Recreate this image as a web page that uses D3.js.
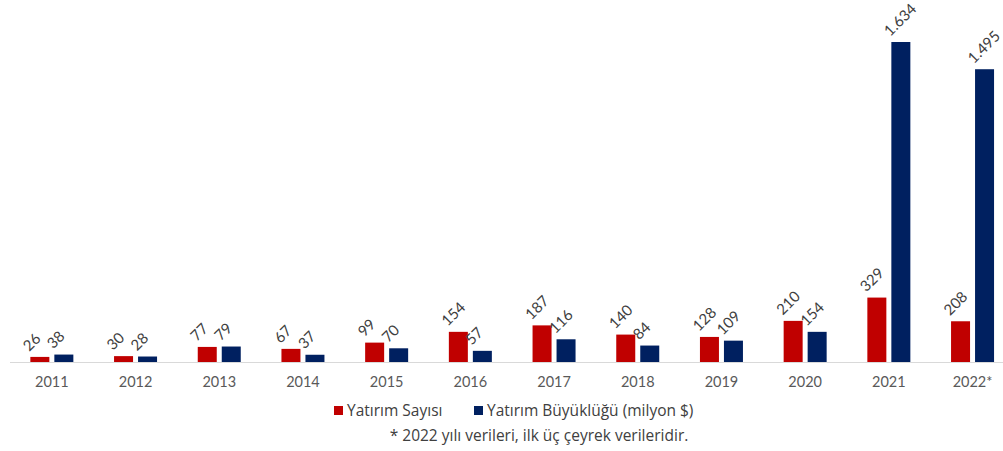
<!DOCTYPE html>
<html><head><meta charset="utf-8">
<script src="https://cdn.jsdelivr.net/npm/d3@7"></script>
<style>body{margin:0;background:#fff}svg{display:block}</style>
</head><body>
<script>
const years = ["2011","2012","2013","2014","2015","2016","2017","2018","2019","2020","2021","2022*"];
const sayisi = [26,30,77,67,99,154,187,140,128,210,329,208];
const buyukluk = [38,28,79,37,70,57,116,84,109,154,1634,1495];
const seriesNames = ["Yatırım Sayısı","Yatırım Büyüklüğü (milyon $)"];
const colors = ["#c00000","#002060"];
const footnote = "* 2022 yılı verileri, ilk üç çeyrek verileridir.";

const W=1003,H=451;
const svg=d3.select("body").append("svg").attr("width",W).attr("height",H);
const x=d3.scaleBand().domain(years).range([10,10+12*83.7]).padding(0);
const y=d3.scaleLinear().domain([0,1634]).range([362,42]);
const sub=d3.scaleOrdinal().domain([0,1]).range([-21.5,2.5]);
const bw=19;
const fmt=v=>d3.format(",")(v).replace(/,/g,".");

const ax=d3.axisBottom(x).tickSize(0).tickPadding(15);
const g=svg.append("g").attr("transform","translate(0,362)").call(ax);
g.select(".domain").attr("stroke","#d9d9d9").attr("d","M10,0.5H1003");
g.selectAll("text").attr("font-family","Lato, sans-serif").attr("font-size",14.5).attr("fill","#595959");

[sayisi,buyukluk].forEach((arr,si)=>{
  const data=years.map((yr,i)=>({yr,v:arr[i]}));
  svg.append("g").selectAll("rect").data(data).join("rect")
    .attr("x",d=>x(d.yr)+x.bandwidth()/2+sub(si))
    .attr("y",d=>y(d.v)).attr("width",bw).attr("height",d=>y(0)-y(d.v))
    .attr("fill",colors[si]);
  svg.append("g").selectAll("text").data(data).join("text")
    .attr("transform",d=>`translate(${x(d.yr)+x.bandwidth()/2+sub(si)-1},${y(d.v)-5}) rotate(-45)`)
    .attr("font-family","Lato, sans-serif").attr("font-size",15).attr("fill","#404040")
    .text(d=>fmt(d.v));
});

const leg=svg.append("g").attr("font-family","'Open Sans', sans-serif").attr("font-size",15.5).attr("fill","#404040");
const lx=[334,474];
seriesNames.forEach((n,i)=>{
  leg.append("rect").attr("x",lx[i]).attr("y",406).attr("width",9).attr("height",9).attr("fill",colors[i]);
  leg.append("text").attr("x",lx[i]+13).attr("y",416).text(n);
});
svg.append("text").attr("x",539).attr("y",441).attr("text-anchor","middle")
  .attr("font-family","'Open Sans', sans-serif").attr("font-size",15.5).attr("fill","#404040").text(footnote);
</script>
</body></html>
